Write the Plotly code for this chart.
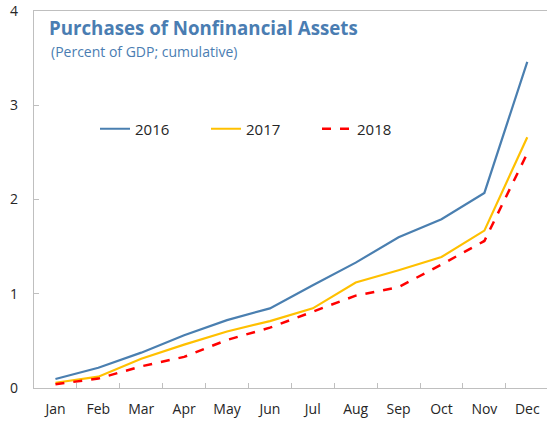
import plotly.graph_objects as go

months = ["Jan", "Feb", "Mar", "Apr", "May", "Jun", "Jul", "Aug", "Sep", "Oct", "Nov", "Dec"]
y2016 = [0.095, 0.215, 0.375, 0.56, 0.72, 0.845, 1.09, 1.33, 1.60, 1.79, 2.07, 3.46]
y2017 = [0.056, 0.12, 0.31, 0.46, 0.60, 0.71, 0.845, 1.12, 1.25, 1.39, 1.67, 2.66]
y2018 = [0.04, 0.10, 0.23, 0.33, 0.51, 0.64, 0.81, 0.98, 1.07, 1.31, 1.56, 2.49]
y_ticks = [0, 1, 2, 3, 4]

title_text = "Purchases of Nonfinancial Assets"
subtitle_text = "(Percent of GDP; cumulative)"

FONT = "Open Sans"
BLUE_T = "#4A7DB2"

fig = go.Figure()
fig.add_trace(go.Scatter(x=months, y=y2016, mode="lines", name="2016",
                         line=dict(color="#4A7FB0", width=2.2)))
fig.add_trace(go.Scatter(x=months, y=y2017, mode="lines", name="2017",
                         line=dict(color="#FFC000", width=2.2)))
fig.add_trace(go.Scatter(x=months, y=y2018, mode="lines", name="2018",
                         line=dict(color="#FF0000", width=2.5, dash="dash")))

fig.update_layout(
    width=547, height=421,
    margin=dict(l=34, r=0, t=11, b=33, autoexpand=False),
    paper_bgcolor="white", plot_bgcolor="white",
    font=dict(family=FONT, size=14, color="#262626"),
    title=dict(text="<b>" + title_text + "</b>", x=49 / 547, xanchor="left",
               y=1 - 28 / 421, yanchor="middle", yref="container",
               font=dict(family=FONT, size=18.7, color=BLUE_T)),
    showlegend=True,
    legend=dict(orientation="h", x=(95 - 34) / 513, xanchor="left",
                y=(388 - 129) / 377, yanchor="middle",
                bgcolor="rgba(0,0,0,0)", font=dict(size=15, color="#262626"),
                entrywidth=66, tracegroupgap=0),
    xaxis=dict(type="category", categoryorder="array", categoryarray=months,
               range=[-0.5, 11.46], tickson="boundaries", ticks="inside",
               ticklen=5, tickcolor="#BFBFBF", showline=True, linecolor="#BFBFBF",
               linewidth=1.3, mirror=True, showgrid=False, zeroline=False,
               ticklabelstandoff=8, automargin=False, fixedrange=True),
    yaxis=dict(range=[0, 4], tickvals=y_ticks, ticks="inside", ticklen=5,
               tickcolor="#BFBFBF", showline=True, linecolor="#BFBFBF",
               linewidth=1.3, showgrid=False, zeroline=False,
               ticklabelstandoff=12, automargin=False, fixedrange=True),
    annotations=[dict(text=subtitle_text, xref="paper", yref="paper",
                      x=(49 - 34) / 513, y=(388 - 52) / 377, xanchor="left",
                      yanchor="middle", showarrow=False,
                      font=dict(family=FONT, size=14, color=BLUE_T))],
)

fig.write_html("out.html", config={"displayModeBar": False},
               post_script="document.body.style.margin='0';document.body.style.overflow='hidden';")
